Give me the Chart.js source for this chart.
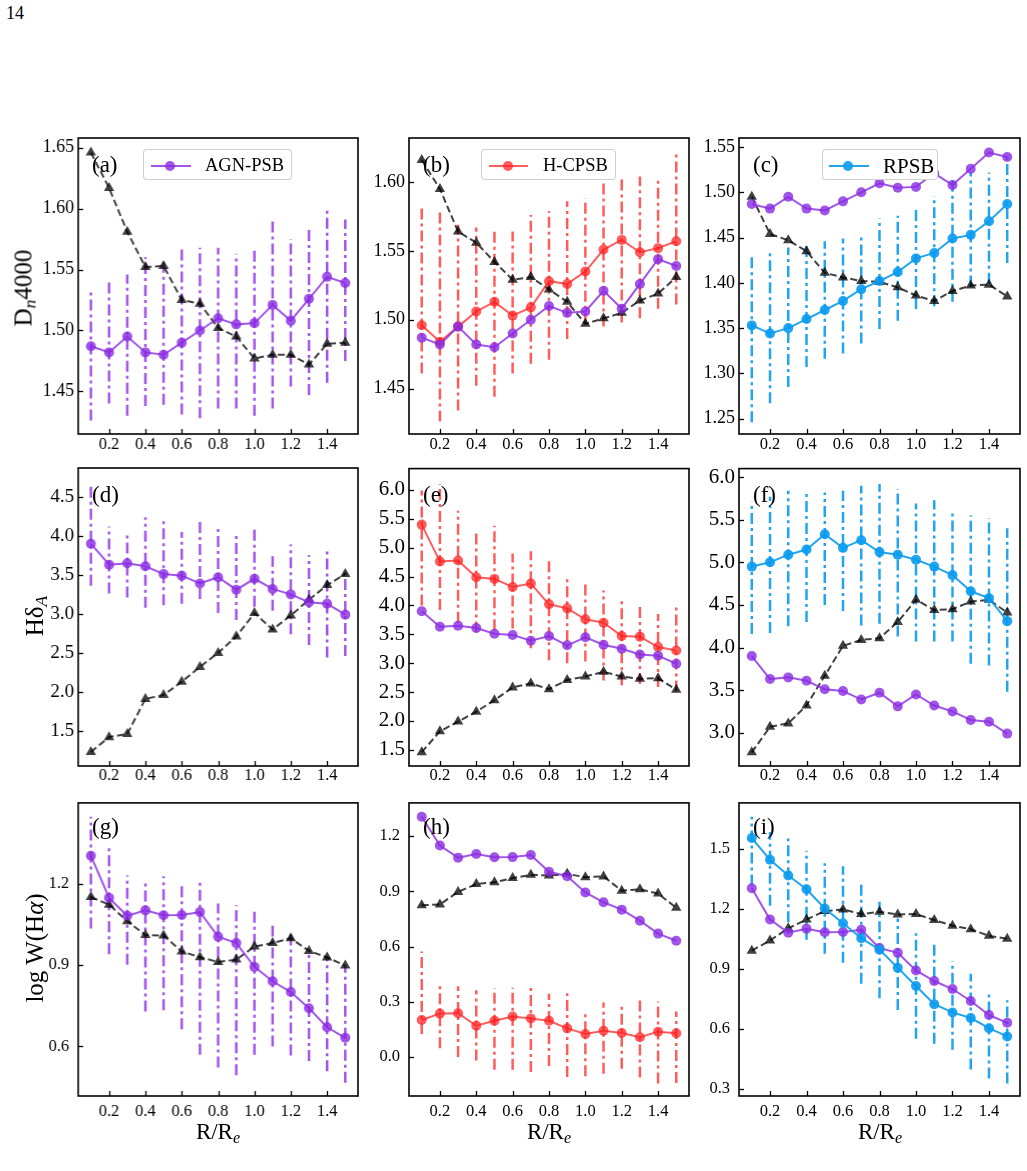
<!DOCTYPE html>
<html>
<head>
<meta charset="utf-8">
<script src="https://cdn.jsdelivr.net/npm/chart.js@4.4.0/dist/chart.umd.min.js"></script>
<style>
    body { margin: 0; background: #fff; width: 1027px; height: 1171px; position: relative; overflow: hidden;
        font-family: 'Liberation Serif', 'Times New Roman', serif; color: #000; }
    canvas { position: absolute; }
    .txt { position: absolute; white-space: nowrap; line-height: 1; }
    .ytitle { position: absolute; white-space: nowrap; line-height: 1; font-size: 25px; transform: translate(-50%, -50%) rotate(-90deg); }
    .xtitle { position: absolute; white-space: nowrap; line-height: 1; font-size: 23px; transform: translate(-50%, -50%); }
    sub { font-size: 0.7em; vertical-align: -0.25em; line-height: 0; }
    .legend { position: absolute; height: 31px; border: 1px solid rgba(204,204,204,0.9); border-radius: 4px; background: #fff; box-sizing: border-box; }
    .legend .ln { position: absolute; height: 2px; top: 15px; }
    .legend .dot { position: absolute; width: 10px; height: 10px; border-radius: 50%; top: 11px; }
    .legend .lt { position: absolute; top: 6px; line-height: 1; }
</style>
</head>
<body>
<div class="txt" style="left:6px;top:4px;font-size:18px;">14</div>

<canvas id="pa"></canvas><canvas id="pb"></canvas><canvas id="pc"></canvas>
<canvas id="pd"></canvas><canvas id="pe"></canvas><canvas id="pf"></canvas>
<canvas id="pg"></canvas><canvas id="ph"></canvas><canvas id="pi"></canvas>

<div class="ytitle" style="left:23px;top:288px;">D<sub><i>n</i></sub>4000</div>
<div class="ytitle" style="left:34px;top:616px;">Hδ<sub><i>A</i></sub></div>
<div class="ytitle" style="left:34px;top:948px;">log W(H<i>α</i>)</div>
<div class="xtitle" style="left:218px;top:1131px;">R/R<sub><i>e</i></sub></div>
<div class="xtitle" style="left:549px;top:1131px;">R/R<sub><i>e</i></sub></div>
<div class="xtitle" style="left:880px;top:1131px;">R/R<sub><i>e</i></sub></div>

<script>
// radial bins (R/Re) and x ticks, shared by every panel
const radius = [0.1, 0.2, 0.3, 0.4, 0.5, 0.6, 0.7, 0.8, 0.9, 1.0, 1.1, 1.2, 1.3, 1.4, 1.5];
const xTicks = [0.2, 0.4, 0.6, 0.8, 1.0, 1.2, 1.4];

// AGN-PSB
const agnD4000   = [1.487, 1.482, 1.495, 1.482, 1.480, 1.490, 1.500, 1.510, 1.505, 1.506, 1.521, 1.508, 1.526, 1.544, 1.539];
const agnD4000Lo = [1.426, 1.440, 1.430, 1.438, 1.439, 1.431, 1.428, 1.436, 1.436, 1.430, 1.436, 1.454, 1.447, 1.457, 1.475];
const agnD4000Hi = [1.532, 1.540, 1.546, 1.560, 1.556, 1.568, 1.568, 1.568, 1.563, 1.566, 1.591, 1.575, 1.584, 1.599, 1.591];
const agnHd   = [3.90, 3.63, 3.65, 3.61, 3.51, 3.49, 3.39, 3.47, 3.31, 3.45, 3.32, 3.25, 3.15, 3.13, 2.99];
const agnHdLo = [3.36, 3.26, 3.21, 3.08, 3.11, 3.13, 3.19, 3.01, 2.92, 3.09, 3.04, 2.74, 2.60, 2.44, 2.46];
const agnHdHi = [4.67, 4.12, 4.04, 4.24, 4.24, 4.05, 4.20, 4.10, 4.05, 4.10, 3.74, 3.89, 3.75, 3.80, 3.56];
const agnHa   = [1.304, 1.148, 1.082, 1.102, 1.084, 1.085, 1.096, 1.005, 0.981, 0.893, 0.840, 0.800, 0.740, 0.670, 0.631];
const agnHaLo = [1.035, 0.940, 0.901, 0.728, 0.733, 0.663, 0.568, 0.521, 0.493, 0.568, 0.599, 0.566, 0.545, 0.507, 0.465];
const agnHaHi = [1.448, 1.340, 1.231, 1.209, 1.228, 1.206, 1.204, 1.127, 1.121, 1.102, 1.045, 1.013, 0.952, 0.932, 0.895];

// H-CPSB
const hcD4000   = [1.496, 1.484, 1.495, 1.506, 1.513, 1.503, 1.509, 1.528, 1.526, 1.535, 1.551, 1.558, 1.549, 1.552, 1.557];
const hcD4000Lo = [1.461, 1.426, 1.434, 1.452, 1.444, 1.461, 1.468, 1.471, 1.486, 1.497, 1.495, 1.498, 1.501, 1.508, 1.511];
const hcD4000Hi = [1.582, 1.578, 1.569, 1.567, 1.565, 1.564, 1.576, 1.579, 1.586, 1.588, 1.602, 1.602, 1.604, 1.602, 1.620];
const hcHd   = [5.40, 4.76, 4.78, 4.49, 4.46, 4.32, 4.38, 4.02, 3.95, 3.76, 3.70, 3.47, 3.46, 3.28, 3.22];
const hcHdLo = [4.00, 3.92, 3.70, 3.53, 3.57, 3.60, 3.26, 3.05, 3.00, 3.03, 2.70, 2.62, 2.64, 2.59, 2.51];
const hcHdHi = [5.99, 6.10, 5.64, 5.31, 5.38, 4.90, 4.94, 4.81, 4.52, 4.41, 4.26, 4.10, 3.99, 3.85, 4.02];
const hcHa   = [0.201, 0.236, 0.238, 0.170, 0.197, 0.220, 0.210, 0.197, 0.156, 0.125, 0.143, 0.131, 0.108, 0.138, 0.129];
const hcHaLo = [0.125, 0.048, 0.000, -0.018, -0.068, -0.068, -0.081, -0.048, -0.108, -0.104, -0.090, -0.063, -0.111, -0.143, -0.140];
const hcHaHi = [0.573, 0.403, 0.385, 0.362, 0.373, 0.376, 0.389, 0.344, 0.346, 0.251, 0.296, 0.292, 0.308, 0.301, 0.247];

// RPSB
const rD4000   = [1.353, 1.344, 1.350, 1.360, 1.370, 1.380, 1.393, 1.402, 1.412, 1.427, 1.433, 1.449, 1.453, 1.468, 1.487];
const rD4000Lo = [1.246, 1.267, 1.285, 1.307, 1.316, 1.322, 1.333, 1.349, 1.358, 1.371, 1.374, 1.379, 1.396, 1.399, 1.422];
const rD4000Hi = [1.431, 1.436, 1.439, 1.441, 1.446, 1.449, 1.453, 1.471, 1.474, 1.485, 1.496, 1.515, 1.522, 1.522, 1.540];
const rHd   = [4.95, 5.00, 5.09, 5.15, 5.33, 5.17, 5.26, 5.12, 5.09, 5.03, 4.95, 4.85, 4.66, 4.58, 4.31];
const rHdLo = [4.16, 4.17, 4.25, 4.30, 4.50, 4.43, 4.26, 4.28, 4.13, 4.07, 4.07, 4.07, 3.81, 3.79, 3.48];
const rHdHi = [5.71, 5.77, 5.84, 5.82, 5.82, 5.84, 5.90, 5.92, 5.86, 5.69, 5.73, 5.62, 5.55, 5.52, 5.40];
const rHa   = [1.555, 1.447, 1.368, 1.299, 1.203, 1.129, 1.054, 0.997, 0.906, 0.815, 0.724, 0.683, 0.655, 0.604, 0.563];
const rHaLo = [1.318, 1.216, 1.134, 1.046, 0.977, 0.931, 0.827, 0.754, 0.695, 0.551, 0.526, 0.496, 0.397, 0.353, 0.328];
const rHaHi = [1.662, 1.586, 1.553, 1.492, 1.429, 1.414, 1.338, 1.236, 1.153, 1.079, 1.038, 0.939, 0.876, 0.790, 0.744];

// control samples (black dashed triangles), one per panel
const ctrlA = [1.646, 1.617, 1.581, 1.552, 1.553, 1.525, 1.522, 1.502, 1.495, 1.477, 1.480, 1.480, 1.472, 1.489, 1.490];
const ctrlB = [1.616, 1.595, 1.564, 1.556, 1.542, 1.529, 1.531, 1.522, 1.513, 1.497, 1.501, 1.505, 1.514, 1.519, 1.531];
const ctrlC = [1.495, 1.454, 1.447, 1.435, 1.411, 1.406, 1.402, 1.401, 1.395, 1.386, 1.380, 1.391, 1.397, 1.398, 1.385];
const ctrlD = [1.23, 1.42, 1.46, 1.91, 1.96, 2.13, 2.32, 2.50, 2.71, 3.01, 2.80, 2.98, 3.18, 3.37, 3.51];
const ctrlE = [1.46, 1.82, 1.99, 2.16, 2.36, 2.58, 2.65, 2.55, 2.71, 2.77, 2.85, 2.77, 2.73, 2.74, 2.54];
const ctrlF = [2.77, 3.07, 3.11, 3.32, 3.67, 4.02, 4.09, 4.11, 4.30, 4.56, 4.44, 4.45, 4.54, 4.56, 4.41];
const ctrlG = [1.151, 1.123, 1.062, 1.011, 1.009, 0.950, 0.929, 0.911, 0.920, 0.968, 0.981, 0.999, 0.952, 0.928, 0.898];
const ctrlH = [0.824, 0.828, 0.896, 0.939, 0.949, 0.971, 0.989, 0.985, 0.994, 0.976, 0.980, 0.903, 0.910, 0.887, 0.810];
const ctrlI = [0.992, 1.043, 1.104, 1.148, 1.190, 1.198, 1.175, 1.186, 1.173, 1.175, 1.145, 1.117, 1.099, 1.066, 1.051];

// y tick labels per panel
const ticksD4000A = [1.45, 1.50, 1.55, 1.60, 1.65];
const ticksD4000B = [1.45, 1.50, 1.55, 1.60];
const ticksD4000C = [1.25, 1.30, 1.35, 1.40, 1.45, 1.50, 1.55];
const ticksHdD = [1.5, 2.0, 2.5, 3.0, 3.5, 4.0, 4.5];
const ticksHdE = [1.5, 2.0, 2.5, 3.0, 3.5, 4.0, 4.5, 5.0, 5.5, 6.0];
const ticksHdF = [3.0, 3.5, 4.0, 4.5, 5.0, 5.5, 6.0];
const ticksHaG = [0.6, 0.9, 1.2];
const ticksHaH = [0.0, 0.3, 0.6, 0.9, 1.2];
const ticksHaI = [0.3, 0.6, 0.9, 1.2, 1.5];

const PURPLE = 'rgba(138,43,226,0.8)';
const RED = 'rgba(255,30,30,0.72)';
const BLUE = 'rgba(10,155,240,0.9)';
const GREY = 'rgba(0,0,0,0.75)';

// axes box + inward ticks, matplotlib style
const frameTicks = {
    id: 'frameTicks',
    afterDraw(chart) {
        const { ctx, chartArea: a, scales: { x, y } } = chart;
        ctx.save();
        ctx.strokeStyle = '#000';
        ctx.lineWidth = 1.3;
        x.ticks.forEach(t => {
            const px = Math.round(x.getPixelForValue(t.value)) + 0.5;
            ctx.beginPath(); ctx.moveTo(px, a.bottom); ctx.lineTo(px, a.bottom - 5); ctx.stroke();
        });
        y.ticks.forEach(t => {
            const py = Math.round(y.getPixelForValue(t.value)) + 0.5;
            ctx.beginPath(); ctx.moveTo(a.left, py); ctx.lineTo(a.left + 5, py); ctx.stroke();
        });
        ctx.lineWidth = 1.6;
        ctx.strokeRect(a.left, a.top, a.width, a.height);
        ctx.restore();
    }
};

const pts = (vals) => radius.map((x, i) => ({ x: x, y: vals[i] }));
const bars = (lo, hi) => radius.flatMap((x, i) => [{ x: x, y: lo[i] }, { x: x, y: hi[i] }, { x: x, y: null }]);

function seriesSet(vals, color) {
    return { data: pts(vals), borderColor: color, backgroundColor: color, borderWidth: 2,
        pointRadius: 5, pointBorderWidth: 0, pointStyle: 'circle' };
}
function ctrlSet(vals) {
    return { data: pts(vals), borderColor: GREY, backgroundColor: GREY, borderWidth: 2, borderDash: [7, 3.5],
        pointRadius: 6, pointBorderWidth: 0, pointStyle: 'triangle' };
}
function errSet(lo, hi, color) {
    return { data: bars(lo, hi), borderColor: color, borderWidth: 2.5, borderDash: [11, 4, 3, 4],
        pointRadius: 0, spanGaps: false };
}

function makePanel(id, box, yMin, yMax, yTicks, dec, tickFont, yPad, xPad, datasets) {
    const YW = 70, PT = 16, PR = 14, XH = 40;
    const canvas = document.getElementById(id);
    const w = YW + (box.r - box.l) + PR, h = PT + (box.b - box.t) + XH;
    canvas.width = w; canvas.height = h;
    canvas.style.left = (box.l - YW) + 'px';
    canvas.style.top = (box.t - PT) + 'px';
    canvas.style.width = w + 'px'; canvas.style.height = h + 'px';

    return new Chart(canvas, {
        type: 'line',
        data: { datasets: datasets },
        options: {
            responsive: false,
            animation: false,
            devicePixelRatio: 1,
            layout: { padding: { top: PT, right: PR, left: 0, bottom: 0 } },
            plugins: { legend: { display: false }, tooltip: { enabled: false } },
            scales: {
                x: {
                    type: 'linear', min: 0.03, max: 1.57,
                    afterFit: s => { s.height = XH; },
                    afterBuildTicks: s => { s.ticks = xTicks.map(v => ({ value: v })); },
                    grid: { display: false, drawTicks: false }, border: { display: false },
                    ticks: { color: '#000', padding: xPad, maxRotation: 0, autoSkip: false,
                        font: { family: 'Liberation Serif', size: 16.5 },
                        callback: v => Number(v).toFixed(1) }
                },
                y: {
                    min: yMin, max: yMax,
                    afterFit: s => { s.width = YW; },
                    afterBuildTicks: s => { s.ticks = yTicks.map(v => ({ value: v })); },
                    grid: { display: false, drawTicks: false }, border: { display: false },
                    ticks: { color: '#000', padding: yPad, autoSkip: false,
                        font: { family: 'Liberation Serif', size: tickFont },
                        callback: v => Number(v).toFixed(dec) }
                }
            }
        },
        plugins: [frameTicks]
    });
}

function addLegend(left, width, lineL, lineR, textL, fontSize, color, label) {
    const d = document.createElement('div');
    d.className = 'legend';
    d.style.left = left + 'px'; d.style.top = '149px'; d.style.width = width + 'px';
    d.innerHTML = `<div class="ln" style="left:${lineL - left}px;width:${lineR - lineL}px;background:${color}"></div>` +
        `<div class="dot" style="left:${(lineL + lineR) / 2 - left - 6}px;background:${color}"></div>` +
        `<div class="lt" style="left:${textL - left}px;font-size:${fontSize}px">${label}</div>`;
    document.body.appendChild(d);
}

function addTag(box, text) {
    const d = document.createElement('div');
    d.className = 'txt';
    d.style.left = (box.l + 14) + 'px';
    d.style.top = (box.t + 15) + 'px';
    d.style.fontSize = '23px';
    d.textContent = text;
    document.body.appendChild(d);
}

const cols = [{ l: 78, r: 357.5 }, { l: 409, r: 689 }, { l: 739, r: 1020 }];
const rows = [{ t: 138, b: 434 }, { t: 468, b: 766 }, { t: 800, b: 1096 }];
const box = (c, r) => ({ l: cols[c].l, r: cols[c].r, t: rows[r].t, b: rows[r].b });

// row 1: D4000
makePanel('pa', box(0, 0), 1.415, 1.658, ticksD4000A, 2, 18, 4, 1,
    [seriesSet(agnD4000, PURPLE), ctrlSet(ctrlA), errSet(agnD4000Lo, agnD4000Hi, PURPLE)]);
makePanel('pb', box(1, 0), 1.417, 1.632, ticksD4000B, 2, 18, 4, 1,
    [seriesSet(agnD4000, PURPLE), seriesSet(hcD4000, RED), ctrlSet(ctrlB), errSet(hcD4000Lo, hcD4000Hi, RED)]);
makePanel('pc', box(2, 0), 1.233, 1.560, ticksD4000C, 2, 18, 4, 1,
    [seriesSet(agnD4000, PURPLE), seriesSet(rD4000, BLUE), ctrlSet(ctrlC), errSet(rD4000Lo, rD4000Hi, BLUE)]);

// row 2: HdA
makePanel('pd', box(0, 1), 1.05, 4.87, ticksHdD, 1, 19, 4, 0,
    [seriesSet(agnHd, PURPLE), ctrlSet(ctrlD), errSet(agnHdLo, agnHdHi, PURPLE)]);
makePanel('pe', box(1, 1), 1.22, 6.37, ticksHdE, 1, 21, 4, 0,
    [seriesSet(agnHd, PURPLE), seriesSet(hcHd, RED), ctrlSet(ctrlE), errSet(hcHdLo, hcHdHi, RED)]);
makePanel('pf', box(2, 1), 2.61, 6.10, ticksHdF, 1, 21, 4, 0,
    [seriesSet(agnHd, PURPLE), seriesSet(rHd, BLUE), ctrlSet(ctrlF), errSet(rHdLo, rHdHi, BLUE)]);

// row 3: log W(Ha)
makePanel('pg', box(0, 2), 0.416, 1.499, ticksHaG, 1, 16.5, 9, 6,
    [seriesSet(agnHa, PURPLE), ctrlSet(ctrlG), errSet(agnHaLo, agnHaHi, PURPLE)]);
makePanel('ph', box(1, 2), -0.211, 1.379, ticksHaH, 1, 16.5, 9, 6,
    [seriesSet(agnHa, PURPLE), seriesSet(hcHa, RED), ctrlSet(ctrlH), errSet(hcHaLo, hcHaHi, RED)]);
makePanel('pi', box(2, 2), 0.265, 1.731, ticksHaI, 1, 16.5, 9, 6,
    [seriesSet(rHa, BLUE), seriesSet(agnHa, PURPLE), ctrlSet(ctrlI), errSet(rHaLo, rHaHi, BLUE)]);

addLegend(143, 149, 150, 190, 204, 18.5, PURPLE, 'AGN-PSB');
addLegend(481, 135, 488, 527, 542, 18.5, RED, 'H-CPSB');
addLegend(822, 116, 828, 868, 882, 21, BLUE, 'RPSB');

['(a)', '(b)', '(c)', '(d)', '(e)', '(f)', '(g)', '(h)', '(i)'].forEach((t, k) => addTag(box(k % 3, Math.floor(k / 3)), t));
</script>
</body>
</html>
